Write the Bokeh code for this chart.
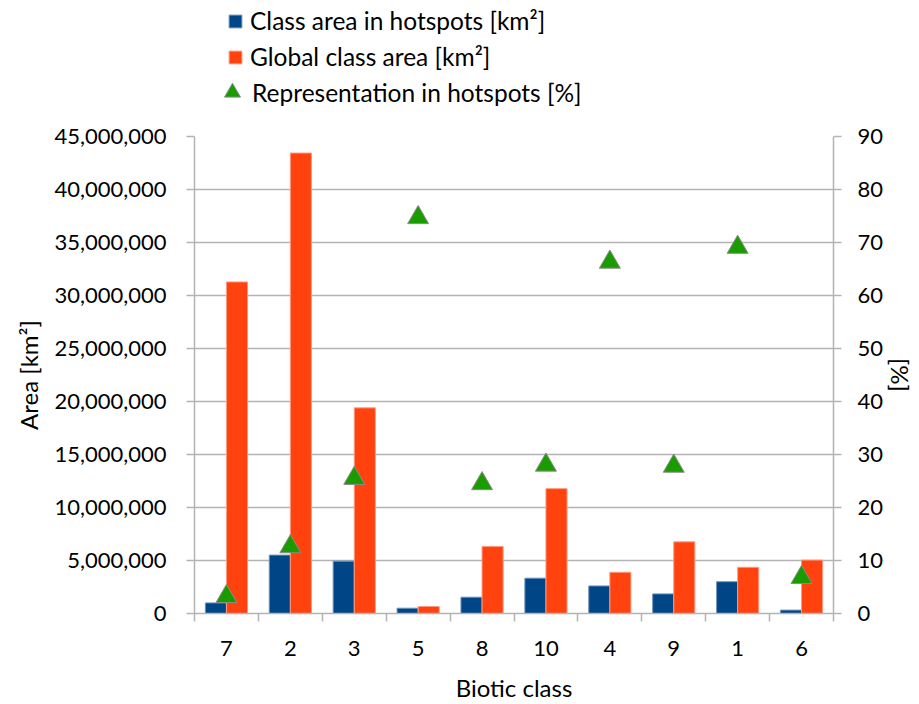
import math
from bokeh.plotting import figure
from bokeh.layouts import column
from bokeh.models import (Range1d, LinearAxis, FixedTicker, NumeralTickFormatter,
                          Legend, LegendItem, ColumnDataSource)
from bokeh.transform import dodge
from bokeh.embed import file_html
from bokeh.resources import INLINE

# ---- data ----
classes = ["7", "2", "3", "5", "8", "10", "4", "9", "1", "6"]
hotspot_area = [1.0e6, 5.51e6, 4.94e6, 0.5e6, 1.54e6, 3.33e6, 2.6e6, 1.85e6, 3.0e6, 0.32e6]
global_area = [31.28e6, 43.44e6, 19.4e6, 0.66e6, 6.33e6, 11.78e6, 3.89e6, 6.76e6, 4.36e6, 5.04e6]
representation = [3.2, 12.6, 25.5, 74.7, 24.5, 28.0, 66.3, 27.8, 69.1, 6.8]
left_ticks = [0, 5e6, 10e6, 15e6, 20e6, 25e6, 30e6, 35e6, 40e6, 45e6]
right_ticks = [0, 10, 20, 30, 40, 50, 60, 70, 80, 90]
series_names = ["Class area in hotspots [km²]", "Global class area [km²]",
                "Representation in hotspots [%]"]

BLUE = "#004586"
ORANGE = "#ff420e"
GREEN = "#1a9c00"
GRID = "#b3b3b3"
FONT = "Lato"
FS_TICK = "22px"
FS_TITLE = "24px"
FS_LEG = "24.5px"
W = 919
LEG_H = 110

bar_style = [dict(fill_color=BLUE, line_color="#6f93bb", line_width=1),
             dict(fill_color=ORANGE, line_color="#ff9a80", line_width=1)]
tri_style = dict(marker="triangle", fill_color=GREEN, line_color="#8c8c8c", line_width=1)

xpos = list(range(len(classes)))
src = ColumnDataSource(dict(x=xpos, hot=hotspot_area, glob=global_area, rep=representation))

# ---------------- main chart ----------------
p = figure(width=W, height=704 - LEG_H, output_backend="svg", toolbar_location=None,
           x_range=Range1d(-0.5, len(classes) - 0.5), y_range=Range1d(0, 45e6),
           min_border_left=194, min_border_right=86, min_border_top=136 - LEG_H,
           min_border_bottom=89)
p.extra_y_ranges = {"pct": Range1d(0, 90)}
p.outline_line_color = None
p.background_fill_color = "white"
p.border_fill_color = "white"

p.xgrid.visible = False
p.ygrid.ticker = FixedTicker(ticks=left_ticks)
p.ygrid.grid_line_color = GRID
p.ygrid.grid_line_width = 1.5

p.vbar(x=dodge("x", -0.165), top="hot", width=0.33, source=src, **bar_style[0])
p.vbar(x=dodge("x", 0.165), top="glob", width=0.33, source=src, **bar_style[1])
p.scatter(x="x", y="rep", source=src, y_range_name="pct", size=21, **tri_style)

# x axis
xa = p.xaxis[0]
xa.ticker = FixedTicker(ticks=xpos, minor_ticks=[i - 0.5 for i in range(len(classes) + 1)])
xa.major_label_overrides = {i: c for i, c in enumerate(classes)}
xa.major_tick_line_color = None
xa.minor_tick_line_color = GRID
xa.minor_tick_line_width = 1.5
xa.minor_tick_out = 8
xa.minor_tick_in = 0
xa.axis_line_color = GRID
xa.axis_line_width = 1.5
xa.axis_label = "Biotic class"
xa.major_label_standoff = 19
xa.axis_label_standoff = 14

# left axis
ya = p.yaxis[0]
ya.ticker = FixedTicker(ticks=left_ticks)
ya.formatter = NumeralTickFormatter(format="0,0")
ya.minor_tick_line_color = None
ya.major_tick_line_color = GRID
ya.major_tick_line_width = 1.5
ya.major_tick_out = 8
ya.major_tick_in = 0
ya.axis_line_color = GRID
ya.axis_line_width = 1.5
ya.axis_label = "Area [km²]"
ya.major_label_standoff = 20
ya.axis_label_standoff = 8

# right axis
ra = LinearAxis(y_range_name="pct", ticker=FixedTicker(ticks=right_ticks), axis_label="[%]")
ra.minor_tick_line_color = None
ra.major_tick_line_color = GRID
ra.major_tick_line_width = 1.5
ra.major_tick_out = 8
ra.major_tick_in = 0
ra.axis_line_color = GRID
ra.axis_line_width = 1.5
ra.major_label_standoff = 16
ra.axis_label_standoff = 0
p.add_layout(ra, "right")

for ax in (xa, ya, ra):
    ax.major_label_text_font = FONT
    ax.major_label_text_font_size = FS_TICK
    ax.major_label_text_color = "#000000"
    ax.axis_label_text_font = FONT
    ax.axis_label_text_font_size = FS_TITLE
    ax.axis_label_text_font_style = "normal"
    ax.axis_label_text_color = "#000000"

# ---------------- legend strip above the chart ----------------
# hidden renderers that only feed the legend swatches
lg = figure(width=W, height=LEG_H, output_backend="svg", toolbar_location=None,
            x_range=Range1d(1000, 1000 + W), y_range=Range1d(0, LEG_H),
            min_border_left=0, min_border_right=0, min_border_top=0, min_border_bottom=0)
lg.axis.visible = False
lg.grid.visible = False
lg.outline_line_color = None
lg.background_fill_color = "white"
lg.border_fill_color = "white"
g1 = lg.vbar(x="x", top="hot", width=0.33, source=src, **bar_style[0])
g2 = lg.vbar(x="x", top="glob", width=0.33, source=src, **bar_style[1])
g3 = lg.scatter(x="x", y="rep", source=src, size=16, **tri_style)
for g in (g1, g2, g3):
    g.visible = False


def style_legend(leg, glyph):
    leg.padding = 0
    leg.margin = 0
    leg.spacing = 7
    leg.label_height = 24
    leg.glyph_height = glyph
    leg.glyph_width = glyph
    leg.border_line_color = None
    leg.background_fill_alpha = 0
    leg.inactive_fill_alpha = 0
    leg.label_text_font = FONT
    leg.label_text_font_size = FS_LEG
    leg.label_text_color = "#000000"


bars_legend = Legend(items=[LegendItem(label=n, renderers=[g])
                            for n, g in zip(series_names[:2], [g1, g2])],
                     location=(33, 39))
style_legend(bars_legend, 16)
bars_legend.label_standoff = 7
lg.add_layout(bars_legend)

tri_legend = Legend(items=[LegendItem(label=series_names[2], renderers=[g3])],
                    location=(18, -2))
style_legend(tri_legend, 40)
tri_legend.label_standoff = -5
lg.add_layout(tri_legend)

layout = column(lg, p, spacing=0)
open("out.html", "w").write(file_html(layout, INLINE))
